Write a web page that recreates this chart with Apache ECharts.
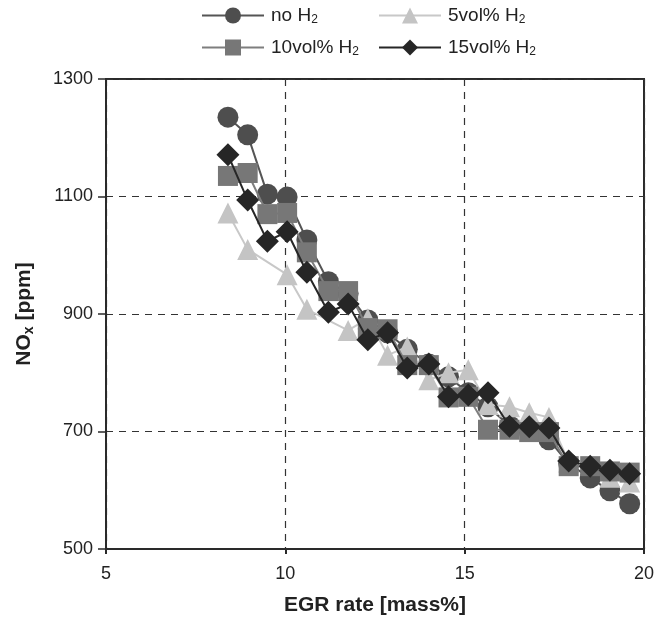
<!DOCTYPE html>
<html>
<head>
<meta charset="utf-8">
<script src="https://cdn.jsdelivr.net/npm/echarts@6/dist/echarts.min.js"></script>
<style>
html,body{margin:0;padding:0;background:#fff;}
#chart{width:655px;height:620px;}
</style>
</head>
<body>
<div id="chart"></div>
<script>
// EGR rate positions [mass%]
var egr = [8.4, 8.95, 9.5, 10.05, 10.6, 11.2, 11.75, 12.3, 12.85, 13.4, 14.0, 14.55, 15.1, 15.65, 16.25, 16.8, 17.35, 17.9, 18.5, 19.05, 19.6];
// NOx [ppm] per series (null = no point)
var noH2  = [1235, 1205, 1104, 1099, 1026, 955, 935, 890, 868, 840, 815, 793, 766, 742, 710, 700, 686, 645, 621, 599, 577];
var h2_5  = [1072, 1010, null, 967, 908, null, 872, 892, 830, 844, 788, 800, 805, 746, 742, 732, 724, 648, null, 622, 614];
var h2_10 = [1135, 1140, 1070, 1072, 1005, 939, 939, 876, 874, 813, 813, 758, 759, 703, 703, 699, 699, 641, 641, 632, 630];
var h2_15 = [1171, 1094, 1024, 1040, 971, 903, 917, 856, 868, 808, 815, 759, 762, 766, 709, 708, 706, 650, 641, 634, 628];
var seriesNames = ['no H2', '5vol% H2', '10vol% H2', '15vol% H2'];
var legendLabels = ['no H{s|2}', '5vol% H{s|2}', '10vol% H{s|2}', '15vol% H{s|2}'];
var xTicks = [5, 10, 15, 20];
var yTicks = [500, 700, 900, 1100, 1300];

function pairs(vals) {
  var out = [];
  for (var i = 0; i < egr.length; i++) {
    if (vals[i] !== null) out.push([egr[i], vals[i]]);
  }
  return out;
}

var FONT = '"Liberation Sans", Arial, sans-serif';
var styles = [
  {symbol: 'circle', size: 21, color: '#4e4e4e', line: '#555555'},
  {symbol: 'triangle', size: 21, color: '#c4c4c4', line: '#c8c8c8'},
  {symbol: 'rect', size: 20, color: '#777777', line: '#7e7e7e'},
  {symbol: 'diamond', size: 23, color: '#262626', line: '#262626'}
];
var allVals = [noH2, h2_5, h2_10, h2_15];

var series = seriesNames.map(function (n, k) {
  var s = styles[k];
  return {
    name: n,
    type: 'line',
    data: pairs(allVals[k]),
    symbol: s.symbol,
    symbolSize: s.size,
    showAllSymbol: true,
    itemStyle: {color: s.color, borderWidth: 0},
    lineStyle: {color: s.line, width: 2},
    z: 2 + k,
    animation: false
  };
});

var legendPos = [[201, 6], [378, 6], [201, 38], [378, 38]];
var legends = seriesNames.map(function (n, k) {
  return {
    data: [{name: n, itemStyle: {color: styles[k].color}}],
    left: legendPos[k][0],
    top: legendPos[k][1],
    itemWidth: 62,
    itemHeight: 20,
    itemGap: 0,
    padding: 0,
    selectedMode: false,
    formatter: function () { return legendLabels[k]; },
    textStyle: {
      fontFamily: FONT, fontSize: 19, color: '#222', padding: [0, 0, 0, 2],
      rich: {s: {fontFamily: FONT, fontSize: 12, color: '#222', verticalAlign: 'bottom', padding: [9, 0, 0, 0]}}
    }
  };
});

var chart = echarts.init(document.getElementById('chart'), null, {renderer: 'canvas'});
chart.setOption({
  backgroundColor: '#fff',
  animation: false,
  legend: legends,
  grid: {left: 106, right: 11, top: 79, bottom: 71, show: true, borderColor: '#2a2a2a', borderWidth: 2,
         containLabel: false, outerBoundsMode: 'none'},
  xAxis: {
    type: 'value', min: xTicks[0], max: xTicks[xTicks.length - 1], interval: 5,
    name: 'EGR rate [mass%]', nameLocation: 'middle', nameGap: 46,
    nameTextStyle: {fontFamily: FONT, fontSize: 21, fontWeight: 'bold', color: '#222'},
    axisLine: {lineStyle: {color: '#2a2a2a', width: 2}},
    axisTick: {show: true, length: 5, lineStyle: {color: '#2a2a2a', width: 2}},
    axisLabel: {fontFamily: FONT, fontSize: 18, color: '#222', margin: 16, formatter: function (v) { return String(v); }},
    splitLine: {show: true, lineStyle: {color: '#333', width: 1.2, type: [7, 6]}}
  },
  yAxis: {
    type: 'value', min: yTicks[0], max: yTicks[yTicks.length - 1], interval: 200,
    name: 'NO{s|x} [ppm]', nameLocation: 'middle', nameGap: 70, nameRotate: 90,
    nameTextStyle: {
      fontFamily: FONT, fontSize: 21, fontWeight: 'bold', color: '#222',
      rich: {s: {fontFamily: FONT, fontSize: 14, fontWeight: 'bold', color: '#222', verticalAlign: 'bottom', padding: [9, 0, 0, 0]}}
    },
    axisLine: {show: true, lineStyle: {color: '#2a2a2a', width: 2}},
    axisTick: {show: true, length: 8, lineStyle: {color: '#2a2a2a', width: 1.5}},
    axisLabel: {fontFamily: FONT, fontSize: 18, color: '#222', margin: 13, formatter: function (v) { return String(v); }},
    splitLine: {show: true, lineStyle: {color: '#333', width: 1.2, type: [7, 6]}}
  },
  series: series
});
</script>
</body>
</html>
